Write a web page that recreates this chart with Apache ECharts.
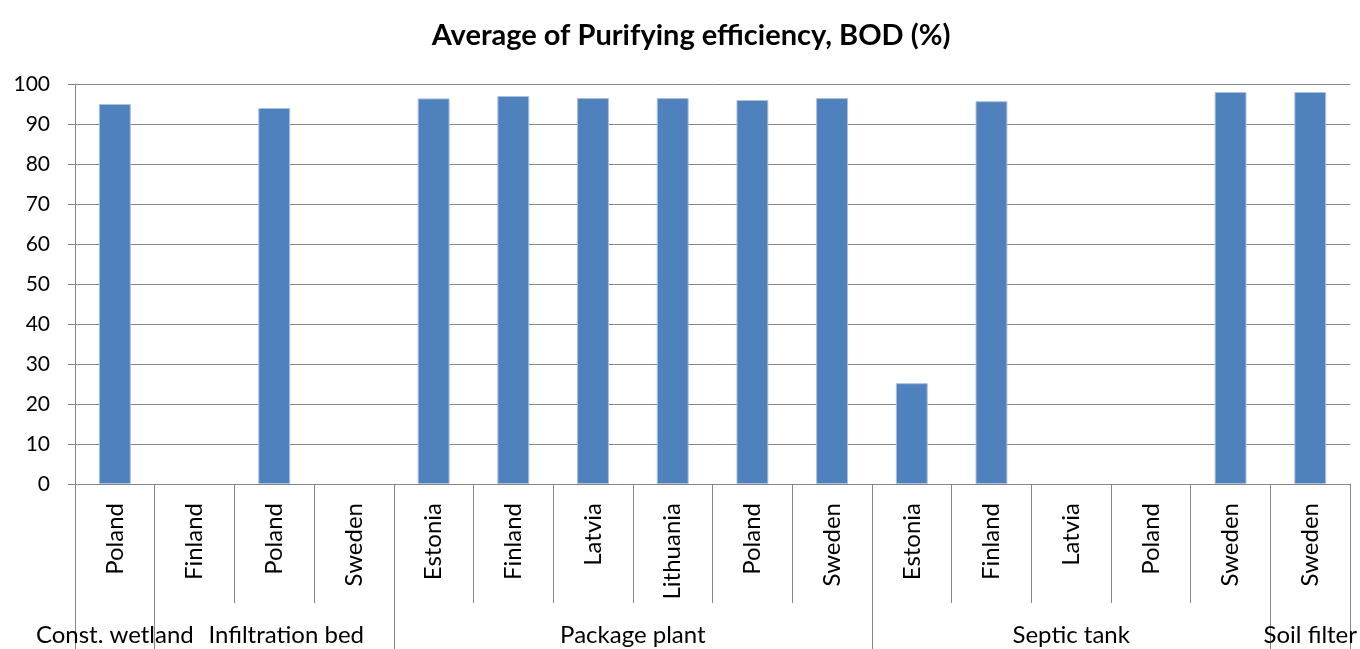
<!DOCTYPE html>
<html>
<head>
<meta charset="utf-8">
<script src="https://cdn.jsdelivr.net/npm/echarts@6/dist/echarts.min.js"></script>
<style>
  html, body { margin: 0; padding: 0; background: #fff; }
  #main { width: 1360px; height: 649px; }
</style>
</head>
<body>
<div id="main"></div>
<script>
// countries (inner axis level)
var countries = ['Poland', 'Finland', 'Poland', 'Sweden', 'Estonia', 'Finland', 'Latvia', 'Lithuania',
  'Poland', 'Sweden', 'Estonia', 'Finland', 'Latvia', 'Poland', 'Sweden', 'Sweden'];
// treatment types (outer axis level) and how many countries each one spans
var groupNames = ['Const. wetland', 'Infiltration bed', 'Package plant', 'Septic tank', 'Soil filter'];
var groupSizes = [1, 3, 6, 5, 1];
// average BOD purifying efficiency, null = no value
var bodValues = [95, null, 94, null, 96.4, 97, 96.5, 96.5, 96, 96.5, 25.2, 95.7, null, null, 98, 98];
var yTicks = [0, 100, 10];

// group boundaries and centres on a 0..n scale
var bounds = [0];
var centres = [];
var centreName = {};
groupSizes.forEach(function (s, i) {
  var start = bounds[bounds.length - 1];
  bounds.push(start + s);
  centres.push(start + s / 2);
  centreName[start + s / 2] = groupNames[i];
});
var cellBounds = countries.map(function (c, i) { return i; }).concat([countries.length]);

var gray = '#878787';
var font = 'Lato';

var chart = echarts.init(document.getElementById('main'));
var option = {
  animation: false,
  title: {
    text: 'Average of Purifying efficiency, BOD (%)',
    left: 686,
    textAlign: 'center',
    top: 16,
    textStyle: { fontFamily: font, fontWeight: 'bold', fontSize: 29, color: '#000' }
  },
  grid: { left: 75, right: 8, top: 84, height: 400 },
  xAxis: [
    {
      type: 'category',
      data: countries,
      axisLine: { lineStyle: { color: gray, width: 1 } },
      axisTick: { show: false },
      axisLabel: {
        interval: 0, rotate: 90, margin: 19,
        fontFamily: font, fontSize: 24, color: '#000'
      }
    },
    {
      // separators between countries
      type: 'value',
      position: 'bottom',
      min: 0,
      max: countries.length,
      splitLine: { show: false },
      axisLine: { show: false },
      axisLabel: { show: false },
      axisTick: { show: true, length: 119, customValues: cellBounds, lineStyle: { color: gray } }
    },
    {
      // treatment-type level
      type: 'value',
      position: 'bottom',
      offset: 119,
      min: 0,
      max: countries.length,
      splitLine: { show: false },
      axisLine: { show: false },
      axisTick: { show: true, length: 46, customValues: bounds, lineStyle: { color: gray } },
      axisLabel: {
        customValues: centres,
        margin: 20,
        fontFamily: font, fontSize: 24, color: '#000',
        formatter: function (v) {
          // second label is pushed right a little, like the original, to clear its neighbour
          return v === centres[1] ? '{pad|' + centreName[v] + '}' : centreName[v] || '';
        },
        rich: { pad: { fontFamily: font, fontSize: 24, color: '#000', padding: [0, 0, 0, 24] } }
      }
    }
  ],
  yAxis: {
    type: 'value',
    min: yTicks[0],
    max: yTicks[1],
    interval: yTicks[2],
    axisLine: { show: true, lineStyle: { color: gray } },
    axisTick: { show: true, length: 7, lineStyle: { color: gray } },
    splitLine: { lineStyle: { color: gray, width: 1 } },
    axisLabel: { margin: 25, fontFamily: font, fontSize: 21, color: '#000' }
  },
  series: [
    {
      type: 'bar',
      xAxisIndex: 0,
      data: bodValues,
      barWidth: '40%',
      itemStyle: { color: '#4F81BD', borderColor: '#a9c0de', borderWidth: 1 }
    }
  ]
};
chart.setOption(option);
</script>
</body>
</html>
